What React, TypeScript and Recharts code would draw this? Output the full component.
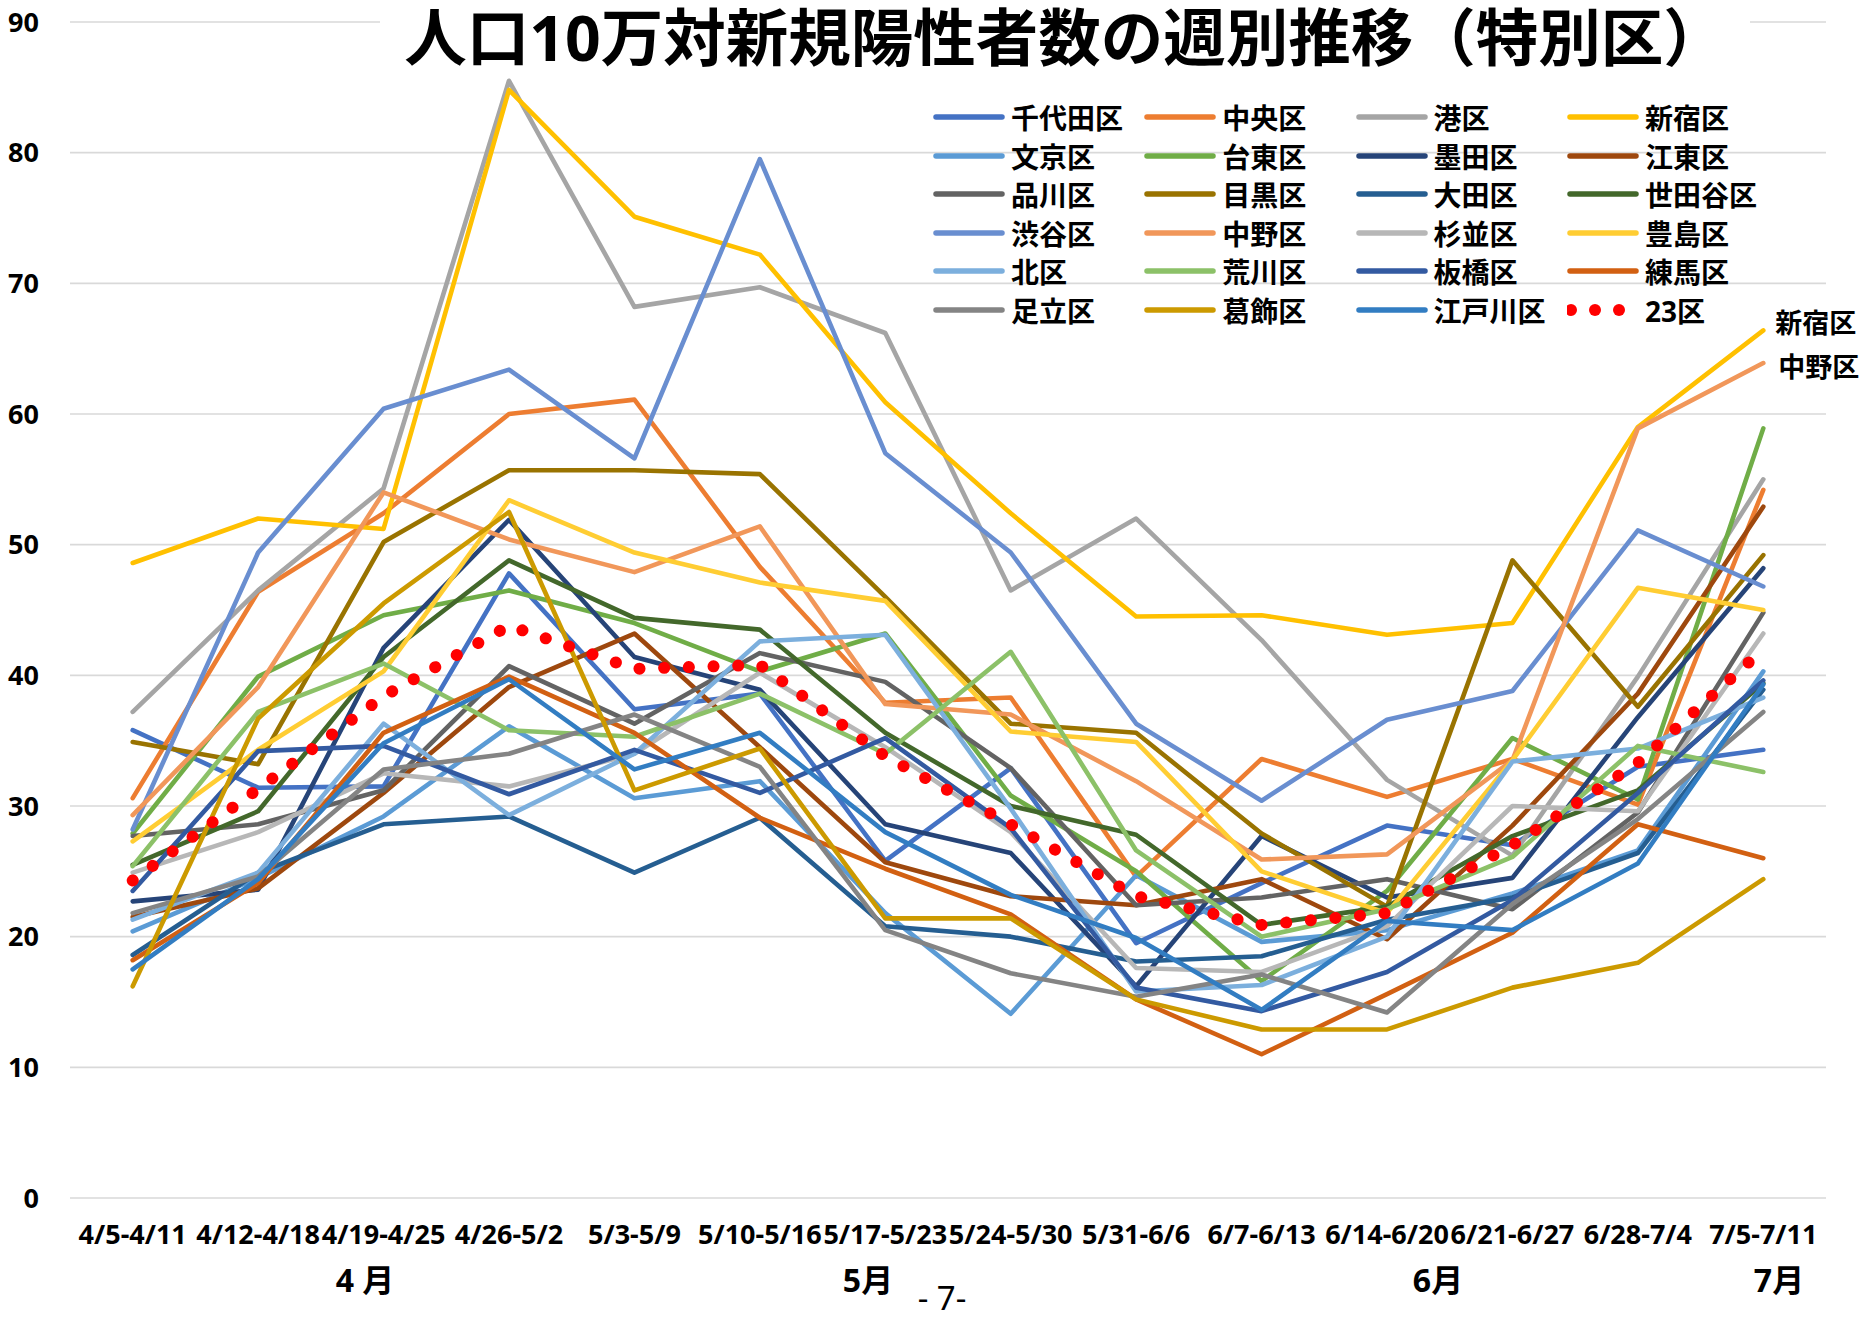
import { LineChart, Line, XAxis, YAxis, CartesianGrid } from "recharts";

const WEEKS = [
  "4/5-4/11", "4/12-4/18", "4/19-4/25", "4/26-5/2", "5/3-5/9", "5/10-5/16", "5/17-5/23",
  "5/24-5/30", "5/31-6/6", "6/7-6/13", "6/14-6/20", "6/21-6/27", "6/28-7/4", "7/5-7/11",
];
const Y_TICKS = [0, 10, 20, 30, 40, 50, 60, 70, 80, 90];

// 人口10万対 新規陽性者数（週別）
const CHIYODA = [35.8, 31.4, 31.5, 47.8, 37.4, 38.6, 25.8, 32.9, 19.5, 24.1, 28.5, 27.0, 33.0, 34.3];
const CHUO = [30.6, 46.4, 52.4, 60.0, 61.1, 48.3, 37.9, 38.3, 24.6, 33.6, 30.7, 33.6, 30.1, 54.2];
const MINATO = [37.2, 46.5, 54.3, 85.5, 68.2, 69.7, 66.2, 46.5, 52.0, 42.7, 32.0, 26.2, 39.9, 55.0];
const SHINJUKU = [48.6, 52.0, 51.2, 84.8, 75.1, 72.2, 60.9, 52.4, 44.5, 44.6, 43.1, 44.0, 59.0, 66.4];
const BUNKYO = [20.4, 24.5, 29.2, 36.1, 30.6, 31.9, 21.8, 14.1, 24.7, 19.6, 20.5, 23.3, 26.6, 40.3];
const TAITO = [27.9, 39.9, 44.6, 46.5, 44.0, 40.3, 43.2, 30.8, 25.0, 16.6, 23.5, 35.2, 30.5, 58.9];
const SUMIDA = [22.7, 23.6, 42.1, 51.9, 41.4, 38.9, 28.6, 26.4, 16.2, 27.7, 23.0, 24.5, 36.8, 48.2];
const KOTO = [21.5, 23.7, 31.0, 39.1, 43.2, 34.5, 25.7, 23.1, 22.4, 24.4, 19.8, 28.5, 38.6, 52.9];
const SHINAGAWA = [27.7, 28.6, 31.2, 40.7, 36.3, 41.7, 39.5, 32.9, 22.4, 23.0, 24.4, 22.1, 29.5, 44.8];
const MEGURO = [34.9, 33.2, 50.2, 55.7, 55.7, 55.4, 46.0, 36.3, 35.6, 27.9, 22.3, 48.8, 37.6, 49.2];
const OTA = [18.6, 24.9, 28.6, 29.2, 24.9, 29.1, 20.8, 20.0, 18.1, 18.5, 21.3, 23.0, 26.4, 38.9];
const SETAGAYA = [25.5, 29.6, 41.4, 48.8, 44.4, 43.5, 35.6, 30.0, 27.8, 20.9, 22.3, 27.7, 31.2, 39.4];
const SHIBUYA = [28.2, 49.4, 60.4, 63.4, 56.6, 79.5, 57.0, 49.4, 36.3, 30.4, 36.6, 38.8, 51.1, 46.8];
const NAKANO = [29.3, 39.1, 54.0, 50.4, 47.9, 51.4, 37.8, 37.0, 31.9, 25.9, 26.3, 33.5, 58.9, 63.9];
const SUGINAMI = [24.9, 28.0, 32.5, 31.5, 34.0, 40.2, 34.5, 28.0, 17.6, 17.3, 20.8, 30.0, 29.6, 43.2];
const TOSHIMA = [27.3, 34.3, 40.3, 53.4, 49.4, 47.1, 45.7, 35.7, 34.9, 25.0, 21.8, 33.5, 46.7, 45.0];
const KITA = [21.3, 24.9, 36.3, 29.3, 34.0, 42.6, 43.1, 29.8, 15.8, 16.3, 20.0, 33.4, 34.4, 38.3];
const ARAKAWA = [25.4, 37.2, 40.9, 35.8, 35.3, 38.6, 34.0, 41.8, 26.6, 20.0, 22.1, 26.1, 34.6, 32.6];
const ITABASHI = [23.5, 34.2, 34.6, 30.9, 34.3, 31.0, 35.2, 28.3, 16.1, 14.3, 17.3, 22.8, 31.0, 39.6];
const NERIMA = [18.2, 24.1, 35.6, 39.9, 35.6, 29.1, 25.2, 21.7, 15.2, 11.0, 15.6, 20.3, 28.6, 26.0];
const ADACHI = [21.8, 24.6, 32.8, 34.0, 37.0, 33.0, 20.5, 17.2, 15.4, 17.1, 14.2, 22.5, 29.0, 37.2];
const KATSUSHIKA = [16.2, 36.7, 45.5, 52.5, 31.2, 34.4, 21.4, 21.4, 15.2, 12.9, 12.9, 16.1, 18.0, 24.4];
const EDOGAWA = [17.5, 24.4, 34.8, 39.7, 32.8, 35.6, 28.0, 23.2, 19.9, 14.4, 21.2, 20.5, 25.6, 39.3];
const WARDS_23 = [24.3, 31.3, 38.4, 43.8, 40.5, 40.8, 33.8, 28.6, 23.1, 20.9, 21.8, 27.0, 33.3, 42.0];

const SERIES = [
  { name: "千代田区", values: CHIYODA, color: "#4472C4" },
  { name: "中央区", values: CHUO, color: "#ED7D31" },
  { name: "港区", values: MINATO, color: "#A5A5A5" },
  { name: "新宿区", values: SHINJUKU, color: "#FFC000" },
  { name: "文京区", values: BUNKYO, color: "#5B9BD5" },
  { name: "台東区", values: TAITO, color: "#70AD47" },
  { name: "墨田区", values: SUMIDA, color: "#264478" },
  { name: "江東区", values: KOTO, color: "#9E480E" },
  { name: "品川区", values: SHINAGAWA, color: "#636363" },
  { name: "目黒区", values: MEGURO, color: "#997300" },
  { name: "大田区", values: OTA, color: "#255E91" },
  { name: "世田谷区", values: SETAGAYA, color: "#43682B" },
  { name: "渋谷区", values: SHIBUYA, color: "#698ED0" },
  { name: "中野区", values: NAKANO, color: "#F1975A" },
  { name: "杉並区", values: SUGINAMI, color: "#B7B7B7" },
  { name: "豊島区", values: TOSHIMA, color: "#FFCD33" },
  { name: "北区", values: KITA, color: "#7CAFDD" },
  { name: "荒川区", values: ARAKAWA, color: "#8CC168" },
  { name: "板橋区", values: ITABASHI, color: "#335AA1" },
  { name: "練馬区", values: NERIMA, color: "#D26012" },
  { name: "足立区", values: ADACHI, color: "#848484" },
  { name: "葛飾区", values: KATSUSHIKA, color: "#CC9A00" },
  { name: "江戸川区", values: EDOGAWA, color: "#327DC2" },
  { name: "23区", values: WARDS_23, color: "#FF0000" },
];

const MONTHS = [
  { text: "4 月", x: 365 },
  { text: "5月", x: 868 },
  { text: "6月", x: 1438 },
  { text: "7月", x: 1779 },
];

const FONT = '"Noto Sans", "Noto Sans CJK JP", sans-serif';
const DOTTED = "23区";

const data = WEEKS.map((week, i) => {
  const row: Record<string, string | number> = { week };
  SERIES.forEach((s) => {
    row[s.name] = s.values[i];
  });
  return row;
});

// label at the last point of a line (新宿区 / 中野区)
function endLabel(text: string, dx: number, dy: number) {
  return (props: any) => {
    if (props.index !== WEEKS.length - 1) return null;
    return (
      <text
        x={props.x + dx}
        y={props.y + dy}
        dominantBaseline="central"
        fontSize={27}
        fontWeight={700}
        fontFamily={FONT}
        fill="#000"
      >
        {text}
      </text>
    );
  };
}

function WardLegend() {
  return (
    <>
      {SERIES.map((s, i) => {
        const col = i % 4;
        const row = Math.floor(i / 4);
        return (
          <div
            key={s.name}
            style={{
              position: "absolute",
              left: 933 + col * 211.3,
              top: 117 + row * 38.6 - 20,
              height: 40,
              display: "flex",
              alignItems: "center",
              whiteSpace: "nowrap",
            }}
          >
            <svg width={72} height={14}>
              {s.name === DOTTED ? (
                [4, 28, 52].map((cx) => <circle key={cx} cx={cx} cy={7} r={6} fill={s.color} />)
              ) : (
                <line x1={3} y1={7} x2={69} y2={7} stroke={s.color} strokeWidth={5.5} strokeLinecap="round" />
              )}
            </svg>
            <span style={{ marginLeft: 6, fontSize: 28, fontWeight: 700, fontFamily: FONT, color: "#000" }}>
              {s.name}
            </span>
          </div>
        );
      })}
    </>
  );
}

export default function App() {
  return (
    <div style={{ position: "relative", width: 1864, height: 1319, background: "#fff", fontFamily: FONT, overflow: "hidden" }}>
      <style>{"body{margin:0}"}</style>
      <LineChart width={1864} height={1319} data={data} margin={{ top: 22, right: 38, bottom: 61, left: 0 }}>
        <CartesianGrid vertical={false} stroke="#d9d9d9" strokeWidth={1.6} />
        <XAxis
          dataKey="week"
          interval={0}
          padding={{ left: 62.7, right: 62.7 }}
          axisLine={false}
          tickLine={false}
          tickSize={0}
          tickMargin={27}
          height={60}
          tick={{ fontSize: 27, fontWeight: 700, fill: "#000", fontFamily: FONT }}
        />
        <YAxis
          type="number"
          domain={[0, 90]}
          ticks={Y_TICKS}
          interval={0}
          width={70}
          axisLine={false}
          tickLine={false}
          tickSize={0}
          tickMargin={31}
          tick={{ fontSize: 27, fontWeight: 700, fill: "#000", fontFamily: FONT }}
        />
        {SERIES.map((s) => (
          <Line
            key={s.name}
            type="linear"
            dataKey={s.name}
            stroke={s.color}
            strokeWidth={s.name === DOTTED ? 12 : 4.6}
            strokeDasharray={s.name === DOTTED ? "0.1 24.6" : undefined}
            strokeLinecap="round"
            strokeLinejoin="round"
            dot={false}
            activeDot={false}
            isAnimationActive={false}
            label={
              s.name === "新宿区"
                ? endLabel("新宿区", 12, -8)
                : s.name === "中野区"
                ? endLabel("中野区", 15, 3)
                : undefined
            }
          />
        ))}
      </LineChart>

      <div
        style={{
          position: "absolute",
          left: 380,
          top: 0,
          width: 1370,
          height: 76,
          background: "#fff",
        }}
      />
      <div
        style={{
          position: "absolute",
          left: 380,
          top: 37,
          width: 1370,
          height: 0,
          display: "flex",
          alignItems: "center",
          justifyContent: "center",
          fontSize: 62.5,
          fontWeight: 700,
          color: "#000",
          whiteSpace: "nowrap",
        }}
      >
        <span style={{ lineHeight: 1 }}>人口10万対新規陽性者数の週別推移（特別区）</span>
      </div>

      <WardLegend />

      {MONTHS.map((m) => (
        <div
          key={m.text}
          style={{
            position: "absolute",
            left: m.x - 60,
            width: 120,
            top: 1260,
            height: 40,
            lineHeight: "40px",
            textAlign: "center",
            fontSize: 32,
            fontWeight: 700,
            color: "#000",
            whiteSpace: "pre",
          }}
        >
          {m.text}
        </div>
      ))}
      <div
        style={{
          position: "absolute",
          left: 882,
          width: 120,
          top: 1279,
          height: 38,
          lineHeight: "38px",
          textAlign: "center",
          fontSize: 33,
          color: "#000",
          whiteSpace: "pre",
        }}
      >
        - 7-
      </div>
    </div>
  );
}
